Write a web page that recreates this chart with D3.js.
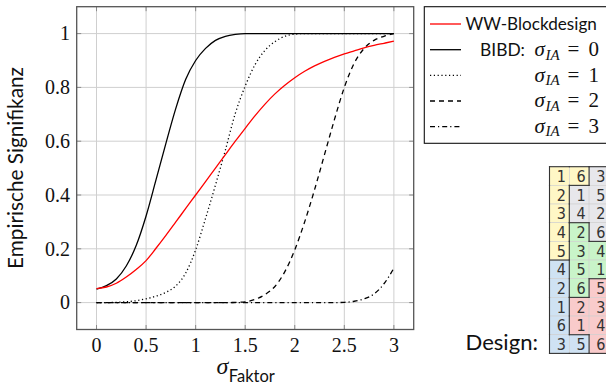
<!DOCTYPE html>
<html>
<head>
<meta charset="utf-8">
<script src="https://cdn.jsdelivr.net/npm/d3@7"></script>
<style>
  html, body { margin: 0; padding: 0; background: #fff; }
  svg { display: block; }
</style>
</head>
<body>
<script>
// ---- data -------------------------------------------------------------
const sigma = [0, 0.1, 0.2, 0.3, 0.4, 0.5, 0.6, 0.7, 0.8, 0.9, 1.0,
               1.1, 1.2, 1.3, 1.4, 1.5, 1.6, 1.7, 1.8, 1.9, 2.0,
               2.1, 2.2, 2.3, 2.4, 2.5, 2.6, 2.7, 2.8, 2.9, 3.0];

const wwBlock = [0.052, 0.058, 0.072, 0.095, 0.123, 0.156, 0.202, 0.25, 0.3, 0.35, 0.4,
                 0.45, 0.5, 0.55, 0.6, 0.648, 0.695, 0.738, 0.776, 0.808, 0.836,
                 0.86, 0.88, 0.897, 0.912, 0.925, 0.936, 0.947, 0.956, 0.964, 0.972];

const bibd0 = [0.05, 0.063, 0.088, 0.136, 0.212, 0.322, 0.456, 0.592, 0.722, 0.83, 0.9,
               0.945, 0.975, 0.99, 0.997, 1, 1, 1, 1, 1, 1,
               1, 1, 1, 1, 1, 1, 1, 1, 1, 1];

const bibd1 = [0, 0, 0.001, 0.003, 0.007, 0.014, 0.024, 0.038, 0.062, 0.11, 0.196,
               0.313, 0.437, 0.567, 0.703, 0.805, 0.885, 0.938, 0.97, 0.99, 0.998,
               1, 1, 1, 1, 1, 1, 1, 1, 1, 1];

const bibd2 = [0, 0, 0, 0, 0, 0, 0, 0, 0, 0, 0,
               0, 0, 0, 0.001, 0.003, 0.012, 0.03, 0.06, 0.115, 0.196,
               0.3, 0.42, 0.55, 0.68, 0.8, 0.89, 0.945, 0.975, 0.99, 1.0];

const bibd3 = [0, 0, 0, 0, 0, 0, 0, 0, 0, 0, 0,
               0, 0, 0, 0, 0, 0, 0, 0, 0, 0,
               0, 0, 0, 0, 0.001, 0.005, 0.014, 0.032, 0.07, 0.128];

const xTicks = [0, 0.5, 1, 1.5, 2, 2.5, 3];
const xTickLabels = ["0", "0.5", "1", "1.5", "2", "2.5", "3"];
const yTicks = [0, 0.2, 0.4, 0.6, 0.8, 1];
const yTickLabels = ["0", "0.2", "0.4", "0.6", "0.8", "1"];

const sigmaValues = ["0", "1", "2", "3"];

// design layout: numbers and block membership per cell
const designNumbers = [
  [1, 6, 3], [2, 1, 5], [3, 4, 2], [4, 2, 6], [5, 3, 4],
  [4, 5, 1], [2, 6, 5], [1, 2, 3], [6, 1, 4], [3, 5, 6]
];
const designBlocks = [
  ["Y", "Y", "S"], ["Y", "S", "S"], ["Y", "S", "S"], ["Y", "G", "S"], ["Y", "G", "G"],
  ["B", "G", "G"], ["B", "G", "R"], ["B", "R", "R"], ["B", "R", "R"], ["B", "B", "R"]
];
const blockColors = { Y: "#fff7c6", S: "#e7e7eb", G: "#c9f4c9", R: "#f9cbcb", B: "#cfe2f3" };

// ---- drawing ----------------------------------------------------------
const W = 606, H = 384;
const svg = d3.select("body").append("svg").attr("width", W).attr("height", H);

const plot = { left: 76.7, right: 413.7, top: 6.7, bottom: 329.5 };
const x = d3.scaleLinear().domain([-0.2, 3.2]).range([plot.left, plot.right]);
const y = d3.scaleLinear().domain([-0.1, 1.1]).range([plot.bottom, plot.top]);

const serif = "Liberation Serif, serif";
const sans = "Lato, DejaVu Sans, sans-serif";

// shrink or grow a text's font so that it spans the given width
function fitWidth(sel, width) {
  const size = +sel.attr("font-size");
  const w = sel.node().getComputedTextLength();
  if (w > 0) sel.attr("font-size", size * width / w);
  return sel;
}

// grid
const grid = svg.append("g").attr("stroke", "#cfcfcf").attr("stroke-width", 1);
grid.selectAll("line.gx").data(xTicks).join("line")
  .attr("x1", d => x(d)).attr("x2", d => x(d))
  .attr("y1", plot.top).attr("y2", plot.bottom);
grid.selectAll("line.gy").data(yTicks).join("line")
  .attr("x1", plot.left).attr("x2", plot.right)
  .attr("y1", d => y(d)).attr("y2", d => y(d));

// inward ticks on all four sides
const tickLen = 4.5;
const ticks = svg.append("g").attr("stroke", "#8a8a8a").attr("stroke-width", 1);
xTicks.forEach(d => {
  ticks.append("line").attr("x1", x(d)).attr("x2", x(d)).attr("y1", plot.bottom).attr("y2", plot.bottom - tickLen);
  ticks.append("line").attr("x1", x(d)).attr("x2", x(d)).attr("y1", plot.top).attr("y2", plot.top + tickLen);
});
yTicks.forEach(d => {
  ticks.append("line").attr("x1", plot.left).attr("x2", plot.left + tickLen).attr("y1", y(d)).attr("y2", y(d));
  ticks.append("line").attr("x1", plot.right).attr("x2", plot.right - tickLen).attr("y1", y(d)).attr("y2", y(d));
});

// curves
const series = [
  { values: bibd3, color: "#000", dash: "5,3,1.2,3" },
  { values: bibd2, color: "#000", dash: "5,4" },
  { values: bibd1, color: "#000", dash: "1.2,2.6" },
  { values: bibd0, color: "#000", dash: null },
  { values: wwBlock, color: "#ff0000", dash: null }
];
const line = d3.line().x(d => x(d[0])).y(d => y(d[1])).curve(d3.curveMonotoneX);
series.forEach(s => {
  svg.append("path")
    .datum(sigma.map((v, i) => [v, s.values[i]]))
    .attr("d", line)
    .attr("fill", "none")
    .attr("stroke", s.color)
    .attr("stroke-width", 1.3)
    .attr("stroke-dasharray", s.dash);
});

// frame
svg.append("rect")
  .attr("x", plot.left).attr("y", plot.top)
  .attr("width", plot.right - plot.left).attr("height", plot.bottom - plot.top)
  .attr("fill", "none").attr("stroke", "#555").attr("stroke-width", 1.3);

// tick labels
svg.append("g").selectAll("text").data(xTicks).join("text")
  .attr("x", d => x(d)).attr("y", 352)
  .attr("text-anchor", "middle")
  .style("font-family", serif).attr("font-size", 20).attr("fill", "#111")
  .text((d, i) => xTickLabels[i]);
svg.append("g").selectAll("text").data(yTicks).join("text")
  .attr("x", 70).attr("y", d => y(d) + 6.8)
  .attr("text-anchor", "end")
  .style("font-family", serif).attr("font-size", 20).attr("fill", "#111")
  .text((d, i) => yTickLabels[i]);

// axis titles
const yTitle = svg.append("text")
  .attr("transform", "translate(22.7,168) rotate(-90)")
  .attr("text-anchor", "middle")
  .style("font-family", sans).attr("font-size", 19).attr("fill", "#111")
  .text("Empirische Signifikanz");
fitWidth(yTitle, 202);

const xt = svg.append("text").attr("x", 216.5).attr("y", 374).attr("fill", "#111");
xt.append("tspan").style("font-family", serif).attr("font-style", "italic").attr("font-size", 24).text("σ");
const sub = xt.append("tspan").style("font-family", sans).attr("font-size", 18).attr("dy", 7.5).attr("dx", 0.5).text("Faktor");
{
  const w = sub.node().getComputedTextLength();
  sub.attr("font-size", 18 * 46 / w);
}

// legend
const lg = svg.append("g");
lg.append("rect").attr("x", 424.3).attr("y", 6.7).attr("width", 200).attr("height", 136.6)
  .attr("fill", "#fff").attr("stroke", "#111").attr("stroke-width", 1.1);
const rowY = [24, 49.7, 75.3, 101, 126.6];
const legendStyles = [
  { color: "#ff0000", dash: null },
  { color: "#000", dash: null },
  { color: "#000", dash: "1.2,2.6" },
  { color: "#000", dash: "5,4" },
  { color: "#000", dash: "5,3,1.2,3" }
];
legendStyles.forEach((s, i) => {
  lg.append("line").attr("x1", 430).attr("x2", 461).attr("y1", rowY[i]).attr("y2", rowY[i])
    .attr("stroke", s.color).attr("stroke-width", 1.3).attr("stroke-dasharray", s.dash);
});
const wwText = lg.append("text").attr("x", 465.5).attr("y", rowY[0] + 6.3)
  .style("font-family", sans).attr("font-size", 18).attr("fill", "#111").text("WW-Blockdesign");
fitWidth(wwText, 131.5);
const legendSans = +wwText.attr("font-size");

const bibdText = lg.append("text").attr("x", 480).attr("y", rowY[1] + 6.3)
  .style("font-family", sans).attr("font-size", legendSans).attr("fill", "#111").text("BIBD:");
fitWidth(bibdText, 45);

sigmaValues.forEach((v, i) => {
  const by = rowY[i + 1] + 6.3;
  const g = lg.append("g").style("font-family", serif).attr("fill", "#111");
  g.append("text").attr("x", 534.5).attr("y", by).attr("font-style", "italic").attr("font-size", 21).text("σ");
  g.append("text").attr("x", 545.5).attr("y", by + 3.5).attr("font-style", "italic").attr("font-size", 15).text("IA");
  g.append("text").attr("x", 567.5).attr("y", by).attr("font-size", 21).text("=");
  g.append("text").attr("x", 588.5).attr("y", by).attr("font-size", 21).text(v);
});

// design
const designLabel = svg.append("text").attr("x", 465.5).attr("y", 349.5)
  .style("font-family", sans).attr("font-size", 19).attr("fill", "#111").text("Design:");
fitWidth(designLabel, 72.5);

const cellW = 19.8, cellH = 18.67, tx0 = 549.5, ty0 = 166.7;
const dg = svg.append("g");
const cells = [];
designNumbers.forEach((row, r) => row.forEach((n, c) => cells.push({ r, c, n, b: designBlocks[r][c] })));
dg.selectAll("rect").data(cells).join("rect")
  .attr("x", d => tx0 + d.c * cellW).attr("y", d => ty0 + d.r * cellH)
  .attr("width", cellW).attr("height", cellH)
  .attr("fill", d => blockColors[d.b]).attr("stroke", "#cfcfcf").attr("stroke-width", 0.6);
dg.selectAll("text").data(cells).join("text")
  .attr("x", d => tx0 + (d.c + 1) * cellW - 3.5).attr("y", d => ty0 + d.r * cellH + 15.3)
  .attr("text-anchor", "end")
  .style("font-family", "Liberation Sans Narrow, DejaVu Sans Condensed, sans-serif")
  .attr("font-size", 16).attr("fill", "#333")
  .text(d => d.n);

// block borders between cells of different blocks, plus outer edge
const edges = [];
const nr = designBlocks.length, nc = designBlocks[0].length;
for (let r = 0; r < nr; r++) {
  for (let c = 0; c < nc; c++) {
    const b = designBlocks[r][c];
    const x0 = tx0 + c * cellW, y0 = ty0 + r * cellH;
    if (r === 0 || designBlocks[r - 1][c] !== b) edges.push([x0, y0, x0 + cellW, y0]);
    if (r === nr - 1) edges.push([x0, y0 + cellH, x0 + cellW, y0 + cellH]);
    if (c === 0 || designBlocks[r][c - 1] !== b) edges.push([x0, y0, x0, y0 + cellH]);
    if (c === nc - 1) edges.push([x0 + cellW, y0, x0 + cellW, y0 + cellH]);
  }
}
dg.selectAll("line").data(edges).join("line")
  .attr("x1", d => d[0]).attr("y1", d => d[1]).attr("x2", d => d[2]).attr("y2", d => d[3])
  .attr("stroke", "#333").attr("stroke-width", 1.1).attr("stroke-linecap", "square");
</script>
</body>
</html>
